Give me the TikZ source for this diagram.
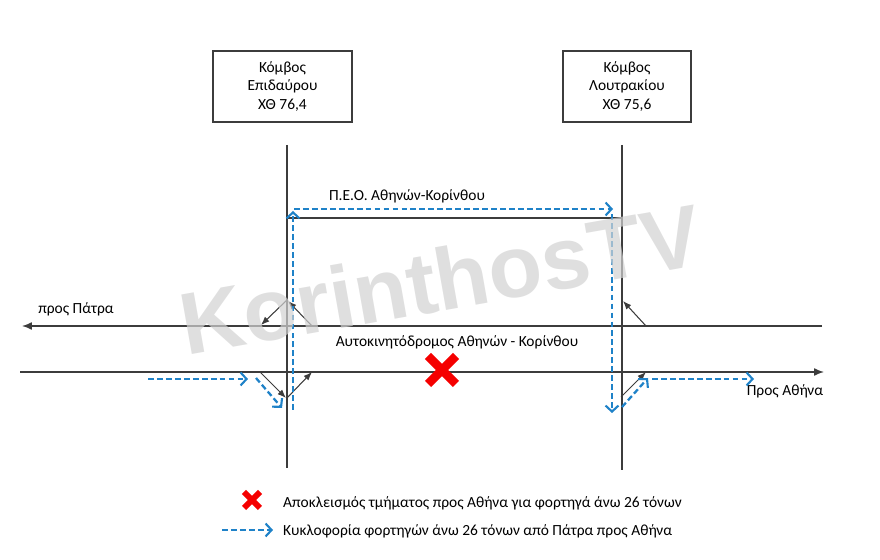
\documentclass[tikz,border=0pt]{standalone}
\usepackage{fontspec}
\setmainfont{Carlito}
\newfontfamily\wmfont{Liberation Sans}
\usepackage{tikz}
\usetikzlibrary{arrows.meta}
\definecolor{roadgray}{RGB}{60,60,60}
\definecolor{truckblue}{RGB}{31,130,200}
\definecolor{stopred}{RGB}{245,0,0}

\begin{document}
\begin{tikzpicture} [x=0.02cm, y=-0.02cm, font=\fontsize{8.8}{10.4}\selectfont,
  road/.style={draw=roadgray, line width=0.8pt},
  ramp/.style={draw=roadgray, line width=0.6pt, -{Latex[length=1.7mm,width=1.3mm]}},
  truck/.style={draw=truckblue, line width=1.3pt, dash pattern=on 3.3pt off 1.8pt,
    -{Straight Barb[length=1.2mm,width=2.6mm,line width=1.2pt]}},
  knot/.style={draw=roadgray, line width=0.6pt, minimum width=2.78cm, minimum height=1.42cm, align=center}]
  \useasboundingbox (0,0) rectangle (880,560);
  % junction boxes
  \node[knot] (epid) at (282.5,86.5) {Κόμβος\\Επιδαύρου\\ΧΘ 76,4};
  \node[knot, minimum width=2.56cm] (lout) at (627,86.5) {Κόμβος\\Λουτρακίου\\ΧΘ 75,6};

  % crossing roads
    \coordinate (E1) at (287,145);
    \coordinate (E2) at (287,468);
    \coordinate (L1) at (622,145);
    \coordinate (L2) at (622,470);
  \draw[road] (E1) -- (E2);
  \draw[road] (L1) -- (L2);

  % old road (PEO)
    \coordinate (P1) at (287,218);
    \coordinate (P2) at (622,218);
  \draw[road] (P1) -- (P2);
  \node (peo) at (407,196) {Π.Ε.Ο. Αθηνών-Κορίνθου};

  % motorway, both carriageways
    \coordinate (W1) at (822,326);
    \coordinate (W2) at (22,326);
    \coordinate (A1) at (20,372);
    \coordinate (A2) at (824,372);
  \draw[road, -{Latex[length=2mm,width=1.6mm]}] (W1) -- (W2); % to Patra
  \draw[road, -{Latex[length=2mm,width=1.6mm]}] (A1) -- (A2); % to Athens
  \node (patra) at (76,309) {προς Πάτρα};
  \node (athina) at (785,391) {Προς Αθήνα};
  \node (motorway) at (457,342) {Αυτοκινητόδρομος Αθηνών - Κορίνθου};

  % ramps at Epidavros junction
    \coordinate (R1) at (287,300);
    \coordinate (R2) at (261,325);
    \coordinate (R3) at (312,326);
    \coordinate (R4) at (288,301);
    \coordinate (R5) at (260,372);
    \coordinate (R6) at (286,398);
    \coordinate (R7) at (287,398);
    \coordinate (R8) at (312,372);
  \draw[ramp] (R1) -- (R2);
  \draw[ramp] (R3) -- (R4);
  \draw[ramp] (R5) -- (R6);
  \draw[ramp] (R7) -- (R8);

  % ramps at Loutraki junction
    \coordinate (S1) at (646,326);
    \coordinate (S2) at (623,301);
    \coordinate (S3) at (621,397);
    \coordinate (S4) at (646,372);
  \draw[ramp] (S1) -- (S2);
  \draw[ramp] (S3) -- (S4);

  % detour of the trucks
    \coordinate (T1) at (148,379);
    \coordinate (T2) at (248,379);
    \coordinate (T3) at (256,378);
    \coordinate (T4) at (282,408);
    \coordinate (T5) at (293,410);
    \coordinate (T6) at (293,211);
    \coordinate (T7) at (294,209);
    \coordinate (T8) at (613,209);
    \coordinate (T9) at (612,214);
    \coordinate (T10) at (612,413);
    \coordinate (T11) at (622,407);
    \coordinate (T12) at (648,378);
    \coordinate (T13) at (652,379);
    \coordinate (T14) at (754,379);
  \draw[truck] (T1) -- (T2);
  \draw[truck] (T3) -- (T4);
  \draw[truck] (T5) -- (T6);
  \draw[truck] (T7) -- (T8);
  \draw[truck] (T9) -- (T10);
  \draw[truck] (T11) -- (T12);
  \draw[truck] (T13) -- (T14);

  % closed section
    \coordinate (X) at (442,370);
  \draw[stopred, line width=5pt] ([shift={(-14,-14)}]X) -- ([shift={(14,14)}]X);
  \draw[stopred, line width=5pt] ([shift={(14,-14)}]X) -- ([shift={(-14,14)}]X);

  % legend
    \coordinate (K) at (252,500);
  \draw[stopred, line width=3.4pt] ([shift={(-8,-8)}]K) -- ([shift={(8,8)}]K);
  \draw[stopred, line width=3.4pt] ([shift={(8,-8)}]K) -- ([shift={(-8,8)}]K);
  \node[anchor=west] (keyx) at (277,503) {Αποκλεισμός τμήματος προς Αθήνα για φορτηγά άνω 26 τόνων};
    \coordinate (D1) at (222,530);
    \coordinate (D2) at (273,530);
  \draw[truck] (D1) -- (D2);
  \node[anchor=west] (keyd) at (277,531) {Κυκλοφορία φορτηγών άνω 26 τόνων από Πάτρα προς Αθήνα};

  % watermark
  \node[anchor=base west, rotate=10, text=gray!35, opacity=0.7,
    font=\wmfont\bfseries\fontsize{50}{50}\selectfont] (wm) at (180,357) {KorinthosTV};
\end{tikzpicture}
\end{document}
